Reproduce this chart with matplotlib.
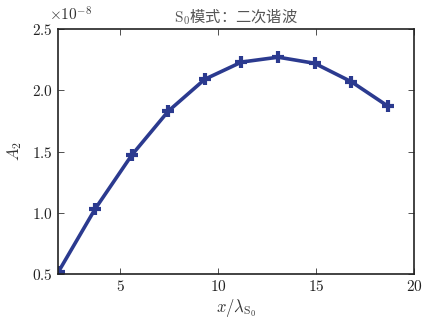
import numpy as np
import matplotlib
matplotlib.use('Agg')
import matplotlib.pyplot as plt
from matplotlib.ticker import FuncFormatter

plt.rcParams['mathtext.fontset'] = 'cm'
plt.rcParams['font.family'] = ['DejaVu Serif', 'Noto Sans CJK SC']

## values
x_ratio = [1.87, 3.73, 5.6, 7.47, 9.33, 11.2, 13.07, 14.93, 16.8, 18.67]
a2 = [0.52e-8, 1.03e-8, 1.47e-8, 1.83e-8, 2.09e-8, 2.23e-8, 2.27e-8, 2.22e-8, 2.07e-8, 1.87e-8]
x_ticks = [5, 10, 15, 20]
y_ticks = [0.5e-8, 1.0e-8, 1.5e-8, 2.0e-8, 2.5e-8]

fig = plt.figure(figsize=(4.33, 3.22), dpi=100)
ax = fig.add_axes([58/433, 1 - 274/322, (414-58)/433, (274-29)/322])

ax.plot(x_ratio, a2, color='#2b3a8f', lw=2.6, marker='+', ms=8, mew=3)

ax.set_xlim(1.84, 20)
ax.set_ylim(0.5e-8, 2.5e-8)
ax.set_xticks(x_ticks)
ax.set_yticks(y_ticks)
ax.xaxis.set_major_formatter(FuncFormatter(lambda v, p: r'$%d$' % v))
ax.yaxis.set_major_formatter(FuncFormatter(lambda v, p: r'$%.1f$' % (v / 1e-8)))
ax.tick_params(direction='in', top=True, right=True, length=4, width=0.6,
               labelsize=11, colors='#333333', labelcolor='#222222')
for s in ax.spines.values():
    s.set_linewidth(1.2)
    s.set_color('#222222')

ax.text(-0.025, 1.02, r'$\times10^{-8}$', transform=ax.transAxes, fontsize=11,
        color='#333333', ha='left', va='bottom')
ax.set_title(r'$\mathrm{S}_0$模式：二次谐波', fontsize=11, color='#555555', pad=5,
             family=['Noto Sans CJK SC'])
ax.set_xlabel(r'$x/\lambda_{\mathrm{S}_0}$', fontsize=12, color='#333333', labelpad=2)
ax.set_ylabel(r'$A_2$', fontsize=12, color='#333333', labelpad=6)

fig.savefig('out.png', dpi=100)
